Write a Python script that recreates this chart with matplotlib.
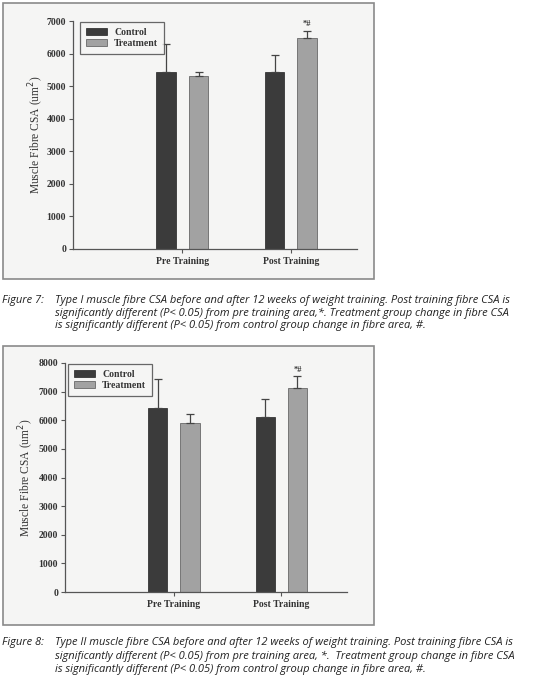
import matplotlib.pyplot as plt
import matplotlib.patches as mpatches
import numpy as np

groups = ['Pre Training', 'Post Training']
type1_control = [5420, 5420]
type1_control_err = [880, 550]
type1_treat = [5300, 6480]
type1_treat_err = [120, 220]
type2_control = [6420, 6130]
type2_control_err = [1030, 620]
type2_treat = [5900, 7130]
type2_treat_err = [330, 420]
ylims = [7000, 8000]

captions = [
    ("Figure 7:", ["Type I muscle fibre CSA before and after 12 weeks of weight training. Post training fibre CSA is",
                   "significantly different (P< 0.05) from pre training area,*. Treatment group change in fibre CSA",
                   "is significantly different (P< 0.05) from control group change in fibre area, #."]),
    ("Figure 8:", ["Type II muscle fibre CSA before and after 12 weeks of weight training. Post training fibre CSA is",
                   "significantly different (P< 0.05) from pre training area, *.  Treatment group change in fibre CSA",
                   "is significantly different (P< 0.05) from control group change in fibre area, #."]),
]

W, H = 533, 680
fig = plt.figure(figsize=(W / 100, H / 100), dpi=100)
fig.patch.set_facecolor('white')


def px(left, top, right, bottom):
    return [left / W, 1 - bottom / H, (right - left) / W, (bottom - top) / H]


serif = ['Liberation Serif', 'DejaVu Serif']
dark = '#3b3b3b'
light = '#a2a2a2'

# panel boxes, drawn on a background axes
bg = fig.add_axes([0, 0, 1, 1], zorder=-5)
bg.set_xlim(0, W)
bg.set_ylim(H, 0)
bg.axis('off')
for (top, bottom) in [(3, 279), (346, 625)]:
    bg.add_patch(mpatches.Rectangle((3, top), 371, bottom - top, facecolor='#f5f5f4',
                                    edgecolor='#8a8a8a', linewidth=1.2))

panels = [
    (px(73, 21, 357, 249), type1_control, type1_control_err, type1_treat, type1_treat_err, ylims[0], 46, 0.022),
    (px(65, 363, 347, 592), type2_control, type2_control_err, type2_treat, type2_treat_err, ylims[1], 36, 0.008),
]

for rect, ctl, ctl_err, trt, trt_err, ymax, ylab_x, leg_x in panels:
    ax = fig.add_axes(rect)
    ax.patch.set_alpha(0)
    x = np.arange(len(groups))
    width = 0.18
    ax.bar(x - 0.15, ctl, width, color=dark, edgecolor='#222222', linewidth=0.5, label='Control', zorder=2)
    ax.bar(x + 0.15, trt, width, color=light, edgecolor='#555555', linewidth=0.5, label='Treatment', zorder=2)
    ax.errorbar(x - 0.15, ctl, yerr=[np.zeros(len(ctl)), ctl_err], fmt='none', ecolor='#444444',
                elinewidth=0.9, capsize=3, capthick=0.9, zorder=3)
    ax.errorbar(x + 0.15, trt, yerr=[np.zeros(len(trt)), trt_err], fmt='none', ecolor='#444444',
                elinewidth=0.9, capsize=3, capthick=0.9, zorder=3)
    ax.text(1.15, trt[1] + trt_err[1] + ymax * 0.01, '*#', ha='center', va='bottom', fontsize=6,
            family=serif, fontweight='bold', color='#333333')
    ax.set_xlim(-1.01, 1.61)
    ax.set_ylim(0, ymax)
    ax.set_yticks(np.arange(0, ymax + 1, 1000))
    ax.set_xticks(x)
    ax.set_xticklabels(groups, family=serif, fontweight='bold', fontsize=7, color='#333333')
    for lab in ax.get_yticklabels():
        lab.set_family(serif)
        lab.set_fontweight('bold')
        lab.set_fontsize(7)
        lab.set_color('#333333')
    ax.tick_params(axis='y', length=3, width=0.8, color='#555555', pad=2)
    ax.tick_params(axis='x', length=3, width=0.8, color='#555555', pad=3)
    for s in ['top', 'right']:
        ax.spines[s].set_visible(False)
    for s in ['left', 'bottom']:
        ax.spines[s].set_color('#555555')
        ax.spines[s].set_linewidth(0.9)
    ax.set_ylabel('Muscle Fibre CSA (um$^2$)', family=serif, fontsize=8.3, color='#333333')
    ax.yaxis.set_label_coords((ylab_x - rect[0] * W) / (rect[2] * W), 0.5)
    leg = ax.legend(loc='upper left', bbox_to_anchor=(leg_x, 1.0), frameon=True, fancybox=False,
                    edgecolor='#444444', prop={'family': serif, 'weight': 'bold', 'size': 7},
                    handlelength=2.2, handleheight=0.7, borderpad=0.6, labelspacing=0.25,
                    handletextpad=0.7, borderaxespad=0.1)
    leg.get_frame().set_linewidth(0.9)
    leg.get_frame().set_facecolor('#f5f5f4')
    for t in leg.get_texts():
        t.set_color('#333333')

cap_font = ['Open Sans', 'DejaVu Sans']
for (label, lines), y0, step in zip(captions, [301, 643], [12, 13.3]):
    fig.text(2 / W, 1 - y0 / H, label, fontsize=8.05, style='italic', family=cap_font,
             color='#222222', va='center', ha='left')
    for i, line in enumerate(lines):
        fig.text(55 / W, 1 - (y0 + step * i) / H, line, fontsize=8.05, style='italic', family=cap_font,
                 color='#222222', va='center', ha='left')

fig.savefig('out.png', dpi=100)
